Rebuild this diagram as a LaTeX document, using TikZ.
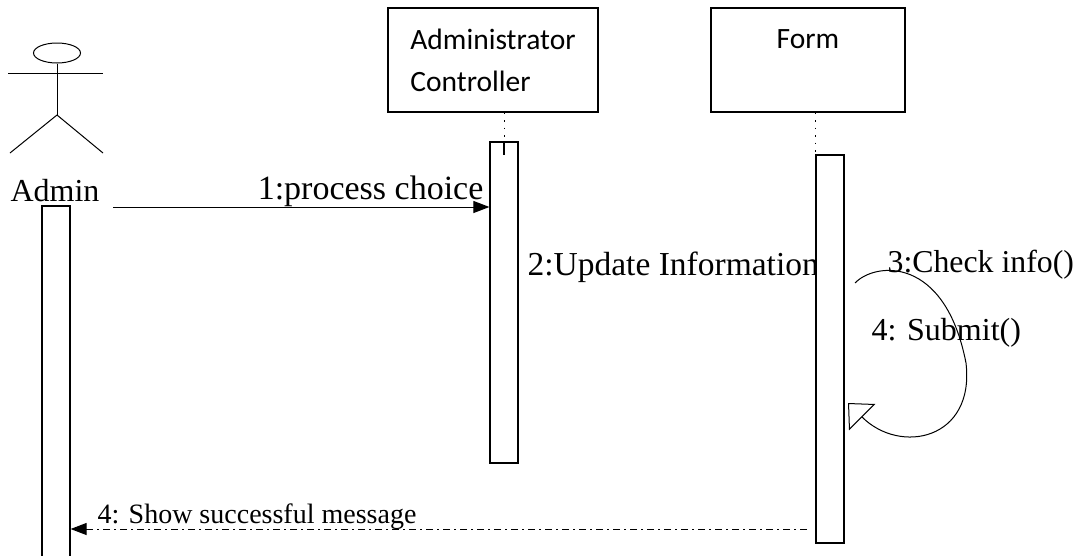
\documentclass[tikz,border=0pt]{standalone}
\usepackage{fontspec}
\setmainfont{Liberation Serif}
\newfontfamily\boxfont{Carlito}
\usetikzlibrary{arrows.meta,shapes.geometric}

\begin{document}
\begin{tikzpicture}[x=1pt,y=-1pt,line width=1.2pt,
  objbox/.style={draw, minimum height=104pt, inner sep=0pt, font=\boxfont\fontsize{29.5}{42}\selectfont},
  actbox/.style={draw, fill=white, minimum width=28pt, inner sep=0pt},
  lifeline/.style={line width=1pt, dash pattern=on 1.5pt off 6pt},
  msgtext/.style={inner sep=0pt, font=\fontsize{#1}{40}\selectfont},
  msgtext/.default=33,
  dashdot/.style={line width=1pt, dash pattern=on 7pt off 4pt on 2pt off 4pt}]
\useasboundingbox (0,0) rectangle (1083,555);
% actor
\node[draw, ellipse, line width=1pt, minimum width=47pt, minimum height=20pt, inner sep=0pt] (head) at (57,53) {};
\coordinate (hip) at (57,115);
\draw[line width=1pt] (8,73) -- (103,73);
\draw[line width=1pt] (head.south) -- (hip);
\draw[line width=1pt] (hip) -- (10,153);
\draw[line width=1pt] (hip) -- (103,153);
\node[msgtext=32, anchor=base west] (admin) at (10,201) {Admin};
% objects
\node[objbox, minimum width=210pt, align=left] (ctrl) at (493,60) {Administrator\\Controller};
\node[objbox, minimum width=194pt, align=center] (form) at (808,60) {Form\\~};
% labels
\node[msgtext=34, anchor=base east] (l1) at (484,199) {1:process choice};
\node[msgtext=33.5, anchor=base west] (l2) at (527,275) {2:Update Information};
\node[msgtext=31.8, anchor=base west] (l3) at (887,272) {3:Check info()};
\node[msgtext=32, anchor=base west] (l4) at (871,340) {4: Submit()};
\node[msgtext=28, anchor=base west] (l5) at (97,523) {4: Show successful message};
% activations
\node[actbox, minimum height=364pt] (act0) at (56,388) {};
\node[actbox, minimum height=321pt] (act1) at (504,302.5) {};
\node[actbox, minimum height=388pt] (act2) at (830,349) {};
\draw[lifeline] (act1.north |- ctrl.south) -- (act1.north);
\draw (act1.north) -- ++(0,14);
\draw[lifeline] (act2.north west |- form.south) -- (act2.north west);
% messages
\coordinate (m1) at (113,207);
\draw[line width=1pt, -{Triangle[length=16pt,width=12pt]}] (m1) -- (m1 -| act1.west);
\coordinate (loopA) at (855,283);
\coordinate (loopB) at (848,403);
\draw[line width=1pt, -{Triangle[open,length=20pt,width=37pt]}] (loopA) .. controls (875,262) and (945,255) .. (966,363) .. controls (975,440) and (900,455) .. (loopB);
\coordinate (m4) at (807,529);
\draw[dashdot, -{Triangle[length=16pt,width=12pt]}] (m4) -- (m4 -| act0.east);
\end{tikzpicture}
\end{document}
